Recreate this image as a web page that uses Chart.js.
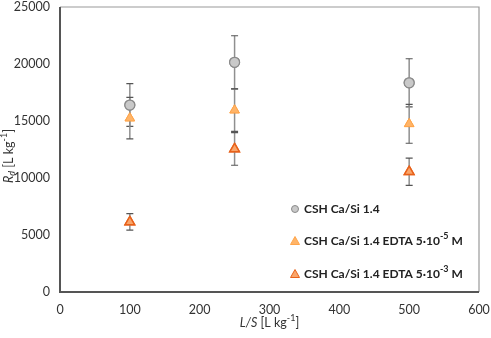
<!DOCTYPE html>
<html><head><meta charset="utf-8">
<script src="https://cdn.jsdelivr.net/npm/chart.js@4/dist/chart.umd.min.js"></script>
<style>html,body{margin:0;padding:0;background:#fff}#wrap{width:491px;height:338px}</style>
</head><body><div id="wrap"><canvas id="c" width="491" height="338"></canvas></div>
<script>
const lsValues = [100, 250, 500];
const seriesLabels = ['CSH Ca/Si 1.4', 'CSH Ca/Si 1.4 EDTA 5·10⁻⁵ M', 'CSH Ca/Si 1.4 EDTA 5·10⁻³ M'];
const cshValues = [16400, 20150, 18350];
const cshErrors = [1870, 2330, 2110];
const edtaLowValues = [15250, 15950, 14750];
const edtaLowErrors = [1820, 1860, 1700];
const edtaHighValues = [6150, 12550, 10550];
const edtaHighErrors = [720, 1430, 1200];
const xTicks = [0, 100, 200, 300, 400, 500, 600];
const yTicks = [0, 5000, 10000, 15000, 20000, 25000];

const FONT = 'Lato, "Open Sans", sans-serif';

function pts(xs, ys, es){ return xs.map((x,i)=>({x:x, y:ys[i], err:es[i]})); }

const errorBarPlugin = {
  id:'errorBars',
  afterDatasetsDraw(chart){
    const ctx = chart.ctx, xs = chart.scales.x, ys = chart.scales.y;
    ctx.save();
    chart.data.datasets.forEach(ds=>{
      ds.data.forEach(p=>{
        const px = xs.getPixelForValue(p.x);
        const top = ys.getPixelForValue(p.y + p.err);
        const bot = ys.getPixelForValue(p.y - p.err);
        ctx.strokeStyle = '#8f8f8f'; ctx.lineWidth = 1.5;
        ctx.beginPath(); ctx.moveTo(px, top); ctx.lineTo(px, bot); ctx.stroke();
        ctx.strokeStyle = '#555'; ctx.lineWidth = 1.2;
        ctx.beginPath();
        ctx.moveTo(px-3.5, top); ctx.lineTo(px+3.5, top);
        ctx.moveTo(px-3.5, bot); ctx.lineTo(px+3.5, bot);
        ctx.stroke();
      });
    });
    ctx.restore();
    chart.data.datasets.forEach((ds,i)=>{
      const meta = chart.getDatasetMeta(i);
      meta.data.forEach(el=>el.draw(ctx, chart.chartArea));
    });
  }
};

const framePlugin = {
  id:'frame',
  afterDraw(chart){
    const {ctx, chartArea:a} = chart;
    ctx.save();
    ctx.strokeStyle = '#9a9a9a'; ctx.lineWidth = 1.2;
    ctx.beginPath(); ctx.moveTo(a.left, a.top); ctx.lineTo(a.right, a.top); ctx.lineTo(a.right, a.bottom); ctx.stroke();
    ctx.strokeStyle = '#555'; ctx.lineWidth = 2;
    ctx.beginPath(); ctx.moveTo(a.left, a.top); ctx.lineTo(a.left, a.bottom); ctx.lineTo(a.right, a.bottom); ctx.stroke();
    ctx.restore();
  }
};

function partFont(p, base, bold){
  const size = (p.sub||p.sup) ? Math.round(base*0.72) : base;
  return (p.italic?'italic ':'') + (bold?'bold ':'') + size + 'px ' + FONT;
}
function drawParts(ctx, parts, x, y, base, bold){
  let cx = x;
  parts.forEach(p=>{
    ctx.font = partFont(p, base, bold);
    const dy = p.sub ? 3 : (p.sup ? -4.5 : 0);
    ctx.fillText(p.t, cx, y + dy);
    cx += ctx.measureText(p.t).width;
  });
  return cx - x;
}
function measureParts(ctx, parts, base, bold){
  let w = 0;
  parts.forEach(p=>{ ctx.font = partFont(p, base, bold); w += ctx.measureText(p.t).width; });
  return w;
}
function labelParts(s){
  const supMap = {'⁻':'-','⁰':'0','¹':'1','²':'2','³':'3','⁴':'4','⁵':'5','⁶':'6','⁷':'7','⁸':'8','⁹':'9'};
  const parts = [];
  for (const ch of s){
    const isSup = ch in supMap;
    const t = isSup ? supMap[ch] : ch;
    const last = parts[parts.length-1];
    if (last && !!last.sup === isSup) last.t += t; else parts.push({t:t, sup:isSup});
  }
  return parts;
}

const axisTitlePlugin = {
  id:'axisTitles',
  afterDraw(chart){
    const ctx = chart.ctx, a = chart.chartArea;
    ctx.save();
    ctx.fillStyle = '#333'; ctx.textBaseline = 'middle'; ctx.textAlign = 'left';
    const xp = [{t:'L/S',italic:true},{t:' [L kg'},{t:'-1',sup:true},{t:']'}];
    const wx = measureParts(ctx, xp, 12.5);
    drawParts(ctx, xp, (a.left + a.right)/2 - wx/2, 323, 12.5);
    const yp = [{t:'R',italic:true},{t:'d',italic:true,sub:true},{t:' [L kg'},{t:'-1',sup:true},{t:']'}];
    const wy = measureParts(ctx, yp, 12.5);
    ctx.translate(9, 156);
    ctx.rotate(-Math.PI/2);
    drawParts(ctx, yp, -wy/2, 0, 12.5);
    ctx.restore();
  }
};

const legendPlugin = {
  id:'insideLegend',
  afterDraw(chart){
    const ctx = chart.ctx;
    const rowsY = [209, 241, 274];
    ctx.save();
    chart.data.datasets.forEach((ds,i)=>{
      const y = rowsY[i];
      const mx = 295;
      ctx.fillStyle = ds.backgroundColor; ctx.strokeStyle = ds.borderColor; ctx.lineWidth = 1;
      ctx.beginPath();
      if (ds.pointStyle === 'circle') { ctx.arc(mx, y, 3.5, 0, Math.PI*2); }
      else { ctx.moveTo(mx, y-4.5); ctx.lineTo(mx+4.5, y+3.5); ctx.lineTo(mx-4.5, y+3.5); ctx.closePath(); }
      ctx.fill(); ctx.stroke();
      ctx.fillStyle = '#222'; ctx.textBaseline = 'middle'; ctx.textAlign = 'left';
      drawParts(ctx, labelParts(ds.label), 304, y, 12, true);
    });
    ctx.restore();
  }
};

new Chart(document.getElementById('c'), {
  type:'scatter',
  data:{ datasets:[
    { label: seriesLabels[0], data: pts(lsValues, cshValues, cshErrors), pointStyle:'circle', pointRadius:5,
      backgroundColor:'#c9c9c9', borderColor:'#8a8a8a', borderWidth:1.2 },
    { label: seriesLabels[1], data: pts(lsValues, edtaLowValues, edtaLowErrors), pointStyle:'triangle', pointRadius:5.5,
      backgroundColor:'#ffb468', borderColor:'#ffa54a', borderWidth:1 },
    { label: seriesLabels[2], data: pts(lsValues, edtaHighValues, edtaHighErrors), pointStyle:'triangle', pointRadius:5.5,
      backgroundColor:'#f9a56a', borderColor:'#e8611a', borderWidth:1.5 }
  ]},
  options:{
    responsive:false, animation:false,
    layout:{ padding:{ top:7, right:12, left:0, bottom:0 } },
    plugins:{ legend:{display:false}, tooltip:{enabled:false} },
    scales:{
      x:{ type:'linear', min:0, max:600,
        afterBuildTicks(s){ s.ticks = xTicks.map(v=>({value:v})); },
        afterFit(s){ s.height = 46; s.paddingLeft = 0; s.paddingRight = 0; },
        grid:{ display:false, drawTicks:false }, border:{ display:false },
        ticks:{ color:'#333', font:{ family:FONT, size:12.5 }, padding:10, maxRotation:0 } },
      y:{ type:'linear', min:0, max:25000,
        afterBuildTicks(s){ s.ticks = yTicks.map(v=>({value:v})); },
        afterFit(s){ s.width = 60; s.paddingTop = 0; s.paddingBottom = 0; },
        grid:{ display:false, drawTicks:false }, border:{ display:false },
        ticks:{ color:'#333', font:{ family:FONT, size:12.5 }, padding:10, callback:v=>String(v) } }
    }
  },
  plugins:[framePlugin, errorBarPlugin, axisTitlePlugin, legendPlugin]
});
</script></body></html>
